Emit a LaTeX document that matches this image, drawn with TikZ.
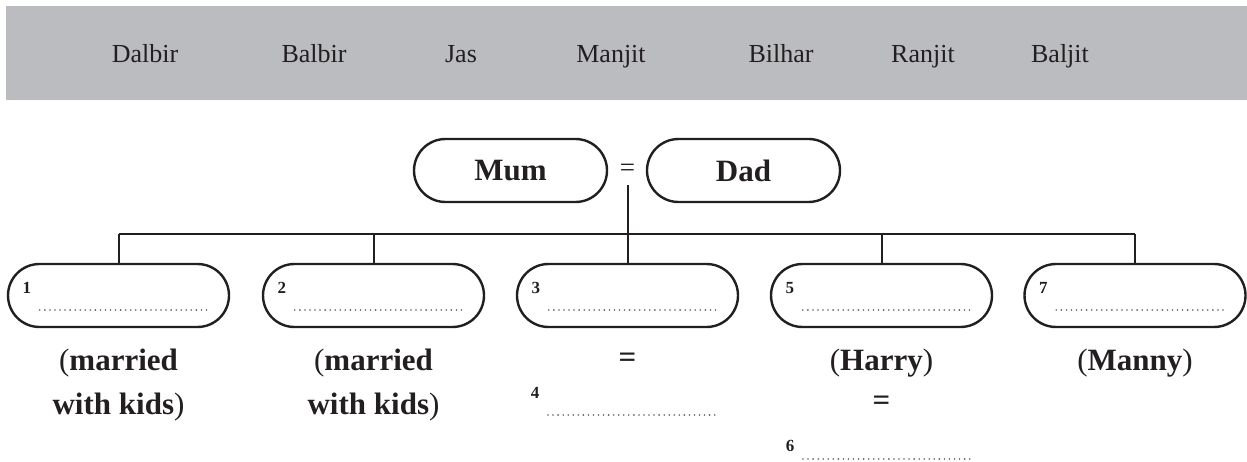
\documentclass[tikz,border=0pt]{standalone}
\usepackage{fontspec}
\setmainfont{Liberation Serif}
\usetikzlibrary{shapes.misc}
\definecolor{band}{RGB}{187,188,192}
\definecolor{ink}{RGB}{35,31,32}
\definecolor{dotc}{RGB}{95,95,100}
\begin{document}
\begin{tikzpicture}[x=1pt,y=-1pt,
  oval/.style={rounded rectangle, draw=ink, line width=2.4pt, minimum width=221pt, minimum height=63pt, inner sep=0pt},
  pairoval/.style={oval, minimum width=193pt, font=\fontsize{31}{36}\selectfont\bfseries, text=ink},
  nm/.style={font=\fontsize{26}{30}\selectfont, text=ink, anchor=base, inner sep=0pt},
  lbl/.style={font=\fontsize{31}{36}\selectfont, text=ink, anchor=base, inner sep=0pt},
  num/.style={font=\fontsize{17}{19}\selectfont\bfseries, text=ink, inner sep=0pt},
  blank/.style={draw=dotc, line width=1.8pt, line cap=round, dash pattern=on 0pt off 5.05pt},
  link/.style={draw=ink, line width=2pt}]
\useasboundingbox (0,0) rectangle (1247,462);
% band
\fill[band] (6,6) rectangle (1247,100);
\node[nm] (n1) at (145,63) {Dalbir};
\node[nm] (n2) at (314,63) {Balbir};
\node[nm] (n3) at (461,63) {Jas};
\node[nm] (n4) at (611,63) {Manjit};
\node[nm] (n5) at (781,63) {Bilhar};
\node[nm] (n6) at (923,63) {Ranjit};
\node[nm] (n7) at (1060,63) {Baljit};
% parents
\node[pairoval] (mum) at (510.5,170.5) {Mum};
\node[pairoval] (dad) at (743.5,170.5) {Dad};
\node[font=\fontsize{27}{30}\selectfont, text=ink, inner sep=1pt] (eq) at (627.5,170) {=};
% children
\node[oval] (c1) at (118.5,295.5) {};
\node[oval] (c2) at (373.5,295.5) {};
\node[oval] (c3) at (627.5,295.5) {};
\node[oval] (c5) at (881.5,295.5) {};
\node[oval] (c7) at (1135,295.5) {};
\coordinate (hub) at (627.5,234);
% connectors
\draw[link] (eq.south |- 0,185) -- (c3.north);
\draw[link] (c1.north |- hub) -- (c7.north |- hub);
\foreach \c in {c1,c2,c5,c7} \draw[link] (\c.north |- hub) -- (\c.north);
% numbers and blanks inside ovals
\foreach \c/\n in {c1/1,c2/2,c3/3,c5/5,c7/7}{
  \node[num] (l\n) at ([xshift=20pt,yshift=7.5pt]\c.west) {\n};
  \draw[blank] ([xshift=33pt,yshift=-14.5pt]\c.west) -- ([xshift=201pt,yshift=-14.5pt]\c.west);
}
% labels below
\node[lbl] (m1a) at (118.5,370) {(\textbf{married}};
\node[lbl] (m1b) at (118.5,414) {\textbf{with kids})};
\node[lbl] (m2a) at (373.5,370) {(\textbf{married}};
\node[lbl] (m2b) at (373.5,414) {\textbf{with kids})};
\node[font=\fontsize{31}{36}\selectfont\bfseries, text=ink, inner sep=0pt] (e3) at (627.5,360) {=};
\node[num] (l4) at (535,393) {4};
\draw[blank] (548,415) -- (716,415);
\node[lbl] (harry) at (881.5,370) {(\textbf{Harry})};
\node[font=\fontsize{31}{36}\selectfont\bfseries, text=ink, inner sep=0pt] (e5) at (881.5,403) {=};
\node[num] (l6) at (790,446) {6};
\draw[blank] (803,459) -- (970,459);
\node[lbl] (manny) at (1135,370) {(\textbf{Manny})};
\end{tikzpicture}
\end{document}
